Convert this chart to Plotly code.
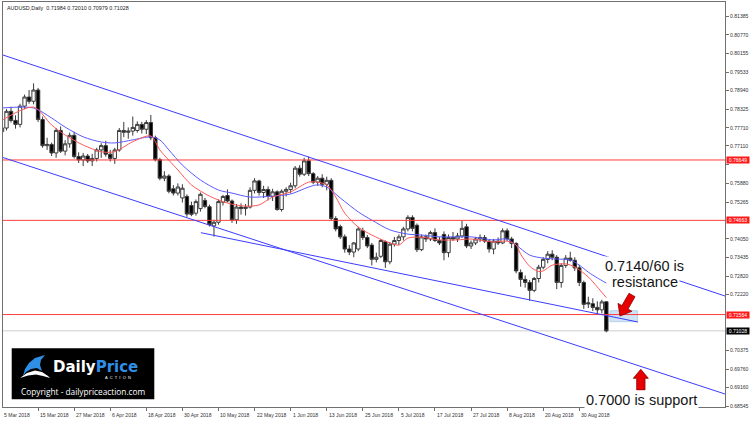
import plotly.graph_objects as go
import pandas as pd

# ---------------- data ----------------
dates = [d.strftime('%Y-%m-%d') for d in pd.bdate_range('2018-03-05', '2018-09-07')]

opens = [0.7758,0.7770,0.7825,0.7795,0.7782,0.7842,0.7872,0.7858,0.7895,0.7798,
         0.7712,0.7716,0.7688,0.7762,0.7694,0.7718,0.7746,0.7676,0.7665,0.7678,
         0.7662,0.7670,0.7698,0.7712,0.7684,0.7670,0.7698,0.7762,0.7756,0.7760,
         0.7762,0.7782,0.7766,0.7788,0.7738,0.7666,0.7605,0.7612,0.7570,0.7556,
         0.7540,0.7545,0.7515,0.7490,0.7505,0.7532,0.7511,0.7448,0.7460,0.7526,
         0.7548,0.7530,0.7468,0.7510,0.7505,0.7510,0.7565,0.7596,0.7558,0.7568,
         0.7545,0.7560,0.7502,0.7562,0.7568,0.7580,0.7638,0.7618,0.7662,0.7620,
         0.7592,0.7605,0.7585,0.7598,0.7472,0.7446,0.7412,0.7372,0.7362,0.7372,
         0.7432,0.7410,0.7385,0.7338,0.7348,0.7396,0.7330,0.7388,0.7400,0.7412,
         0.7438,0.7476,0.7450,0.7370,0.7412,0.7405,0.7426,0.7400,0.7420,0.7360,
         0.7410,0.7405,0.7415,0.7445,0.7382,0.7392,0.7405,0.7410,0.7398,0.7372,
         0.7398,0.7392,0.7432,0.7405,0.7390,0.7295,0.7272,0.7262,0.7236,0.7275,
         0.7312,0.7338,0.7355,0.7345,0.7262,0.7318,0.7342,0.7335,0.7310,0.7262,
         0.7195,0.7192,0.7180,0.7172,0.71984]
highs = [0.7785,0.7832,0.7840,0.7812,0.7850,0.7880,0.7895,0.7917,0.7902,0.7808,
         0.7738,0.7722,0.7770,0.7775,0.7730,0.7755,0.7758,0.7690,0.7688,0.7685,
         0.7685,0.7705,0.7720,0.7728,0.7698,0.7705,0.7770,0.7790,0.7772,0.7808,
         0.7792,0.7790,0.7796,0.7813,0.7745,0.7672,0.7628,0.7618,0.7582,0.7588,
         0.7585,0.7552,0.7528,0.7535,0.7558,0.7540,0.7518,0.7468,0.7535,0.7550,
         0.7568,0.7535,0.7520,0.7522,0.7520,0.7575,0.7605,0.7600,0.7580,0.7578,
         0.7570,0.7565,0.7568,0.7575,0.7590,0.7645,0.7648,0.7672,0.7676,0.7625,
         0.7612,0.7618,0.7610,0.7605,0.7480,0.7452,0.7420,0.7385,0.7395,0.7445,
         0.7442,0.7418,0.7392,0.7360,0.7405,0.7400,0.7395,0.7412,0.7420,0.7445,
         0.7483,0.7483,0.7456,0.7420,0.7420,0.7432,0.7440,0.7412,0.7430,0.7420,
         0.7428,0.7425,0.7465,0.7455,0.7400,0.7412,0.7420,0.7418,0.7402,0.7405,
         0.7410,0.7440,0.7440,0.7412,0.7395,0.7305,0.7285,0.7270,0.7280,0.7320,
         0.7345,0.7365,0.7368,0.7352,0.7325,0.7352,0.7363,0.7345,0.7320,0.7268,
         0.7215,0.7210,0.7200,0.7205,0.72010]
lows = [0.7745,0.7762,0.7788,0.7768,0.7772,0.7832,0.7850,0.7848,0.7790,0.7705,
        0.7698,0.7678,0.7672,0.7688,0.7680,0.7705,0.7670,0.7655,0.7645,0.7655,
        0.7645,0.7660,0.7672,0.7676,0.7660,0.7652,0.7692,0.7740,0.7735,0.7745,
        0.7755,0.7752,0.7750,0.7730,0.7660,0.7598,0.7595,0.7555,0.7548,0.7548,
        0.7525,0.7478,0.7480,0.7482,0.7495,0.7506,0.7446,0.7413,0.7452,0.7515,
        0.7525,0.7458,0.7455,0.7485,0.7482,0.7505,0.7555,0.7548,0.7540,0.7532,
        0.7530,0.7498,0.7495,0.7545,0.7555,0.7572,0.7610,0.7612,0.7612,0.7585,
        0.7580,0.7575,0.7565,0.7465,0.7430,0.7405,0.7360,0.7352,0.7345,0.7365,
        0.7402,0.7375,0.7318,0.7328,0.7342,0.7310,0.7322,0.7380,0.7385,0.7400,
        0.7430,0.7430,0.7362,0.7365,0.7395,0.7398,0.7395,0.7385,0.7335,0.7345,
        0.7398,0.7395,0.7408,0.7375,0.7372,0.7385,0.7395,0.7392,0.7360,0.7355,
        0.7385,0.7388,0.7398,0.7375,0.7292,0.7248,0.7245,0.7202,0.7230,0.7262,
        0.7305,0.7325,0.7335,0.7240,0.7245,0.7310,0.7330,0.7300,0.7250,0.7175,
        0.7178,0.7168,0.7155,0.7160,0.70979]
closes = [0.7770,0.7825,0.7795,0.7782,0.7842,0.7872,0.7858,0.7895,0.7798,0.7712,
          0.7716,0.7688,0.7762,0.7694,0.7718,0.7746,0.7676,0.7665,0.7678,0.7662,
          0.7670,0.7698,0.7712,0.7684,0.7670,0.7698,0.7762,0.7756,0.7760,0.7772,
          0.7782,0.7766,0.7788,0.7738,0.7666,0.7605,0.7612,0.7562,0.7556,0.7576,
          0.7572,0.7487,0.7486,0.7528,0.7552,0.7512,0.7452,0.7460,0.7528,0.7545,
          0.7530,0.7468,0.7510,0.7505,0.7510,0.7565,0.7596,0.7558,0.7568,0.7545,
          0.7560,0.7502,0.7562,0.7568,0.7580,0.7638,0.7618,0.7662,0.7620,0.7592,
          0.7605,0.7585,0.7598,0.7472,0.7438,0.7412,0.7372,0.7362,0.7392,0.7438,
          0.7410,0.7382,0.7338,0.7345,0.7400,0.7330,0.7388,0.7400,0.7412,0.7438,
          0.7476,0.7440,0.7370,0.7412,0.7405,0.7426,0.7400,0.7392,0.7360,0.7410,
          0.7405,0.7415,0.7440,0.7382,0.7392,0.7405,0.7410,0.7398,0.7372,0.7398,
          0.7392,0.7432,0.7405,0.7390,0.7300,0.7272,0.7262,0.7236,0.7275,0.7312,
          0.7338,0.7355,0.7345,0.7262,0.7318,0.7342,0.7335,0.7310,0.7262,0.7190,
          0.7192,0.7180,0.7172,0.7198,0.71028]

# moving averages
ma_fast_dates = ['2018-03-05','2018-03-14','2018-03-20','2018-03-23','2018-03-29','2018-04-04',
                 '2018-04-09','2018-04-13','2018-04-19','2018-04-23','2018-04-27','2018-05-02',
                 '2018-05-08','2018-05-14','2018-05-18','2018-05-23','2018-05-28','2018-06-01',
                 '2018-06-07','2018-06-11','2018-06-13','2018-06-15','2018-06-19','2018-06-22',
                 '2018-06-27','2018-07-03','2018-07-05','2018-07-09','2018-07-12','2018-07-18',
                 '2018-07-24','2018-07-27','2018-08-03','2018-08-08','2018-08-10','2018-08-13',
                 '2018-08-15','2018-08-17','2018-08-20','2018-08-22','2018-08-27','2018-08-29',
                 '2018-09-03','2018-09-05','2018-09-07']
ma_fast_vals = [0.7796,0.7839,0.7780,0.7747,0.7714,0.7692,
                0.7692,0.7725,0.7744,0.7698,0.7632,0.7583,
                0.7546,0.7523,0.7513,0.7517,0.7543,0.7560,
                0.7592,0.7592,0.7583,0.7543,0.7490,0.7444,
                0.7418,0.7392,0.7385,0.7408,0.7411,0.7402,
                0.7402,0.7405,0.7395,0.7398,0.7385,0.7355,
                0.7315,0.7298,0.7300,0.7319,0.7323,0.7313,
                0.7280,0.7247,0.7212]
ma_slow_dates = ['2018-03-05','2018-03-14','2018-03-20','2018-03-23','2018-03-29','2018-04-04',
                 '2018-04-09','2018-04-13','2018-04-19','2018-04-23','2018-04-25','2018-04-30',
                 '2018-05-04','2018-05-10','2018-05-15','2018-05-21','2018-05-28','2018-06-01',
                 '2018-06-07','2018-06-11','2018-06-13','2018-06-18','2018-06-22','2018-06-27',
                 '2018-07-03','2018-07-09','2018-07-12','2018-07-18','2018-07-24','2018-07-27',
                 '2018-08-03','2018-08-08','2018-08-10','2018-08-15','2018-08-20','2018-08-23',
                 '2018-08-28','2018-08-30','2018-09-03','2018-09-05','2018-09-07']
ma_slow_vals = [0.7836,0.7836,0.7803,0.7773,0.7741,0.7724,
                0.7721,0.7731,0.7741,0.7731,0.7698,0.7648,
                0.7599,0.7566,0.7556,0.7543,0.7546,0.7553,
                0.7576,0.7583,0.7576,0.7540,0.7494,0.7467,
                0.7435,0.7421,0.7418,0.7412,0.7412,0.7412,
                0.7402,0.7405,0.7385,0.7352,0.7342,0.7339,
                0.7336,0.7319,0.7296,0.7277,0.7260]

# horizontal levels and price labels
level_prices = [0.76649, 0.74663, 0.71564]
bid_price = 0.71028
title_text = 'AUDUSD,Daily  0.71984 0.72010 0.70979 0.71028'

# trend lines drawn on chart: (bar position, price) pairs
trend_x0 = [0.22, 0.22, 44.1]
trend_y0 = [0.80102, 0.76730, 0.74257]
trend_x1 = [160.3, 160.3, 141.0]
trend_y1 = [0.72174, 0.68951, 0.71319]
zone_x = [134.8, 140.9]
zone_y = [0.71329, 0.71691]

ytick_vals = [0.81385, 0.80770, 0.80155, 0.79533, 0.78940, 0.78325, 0.77710, 0.77110,
              0.76495, 0.75880, 0.75265, 0.74050, 0.73435, 0.72820, 0.72220,
              0.70375, 0.69760, 0.69160, 0.68545]
# 0.76495 sits under the red 0.76649 price tag, so only its tick is shown
ytick_text = ['' if v == 0.76495 else '%.5f' % v for v in ytick_vals]
xtick_dates = ['2018-03-05','2018-03-15','2018-03-27','2018-04-06','2018-04-18','2018-04-30',
               '2018-05-10','2018-05-22','2018-06-01','2018-06-13','2018-06-25','2018-07-05',
               '2018-07-17','2018-07-27','2018-08-08','2018-08-20','2018-08-30']
xtick_text = ['5 Mar 2018','15 Mar 2018','27 Mar 2018','6 Apr 2018','18 Apr 2018','30 Apr 2018',
              '10 May 2018','22 May 2018','1 Jun 2018','13 Jun 2018','25 Jun 2018','5 Jul 2018',
              '17 Jul 2018','27 Jul 2018','8 Aug 2018','20 Aug 2018','30 Aug 2018']

# ---------------- figure ----------------
W, H = 750, 421
ML, MR, MT, MB = 3, 25, 2, 14
PW, PH = W - ML - MR, H - MT - MB
XR = [0.222, 160.31]
YR = [0.68523, 0.81846]
pos = {d: i for i, d in enumerate(dates)}
idx = list(range(len(dates)))
FONT = 'Liberation Sans'


def pp(px, py):
    return (px - ML) / PW, (H - MB - py) / PH


def path(points):
    s = ''
    for k, (a, b) in enumerate(points):
        x, y = pp(a, b)
        s += ('M' if k == 0 else 'L') + '%.5f,%.5f ' % (x, y)
    return s + 'Z'


fig = go.Figure()
fig.add_trace(go.Candlestick(
    x=idx, open=opens, high=highs, low=lows, close=closes,
    increasing=dict(fillcolor='white', line=dict(color='#3a3a3a', width=1)),
    decreasing=dict(fillcolor='black', line=dict(color='#3a3a3a', width=1)),
    whiskerwidth=0, showlegend=False, hoverinfo='skip'))
fig.add_trace(go.Scatter(x=[pos[d] for d in ma_slow_dates], y=ma_slow_vals, mode='lines',
                         line=dict(color='#5a5aff', width=1, shape='spline', smoothing=0.8),
                         showlegend=False, hoverinfo='skip'))
fig.add_trace(go.Scatter(x=[pos[d] for d in ma_fast_dates], y=ma_fast_vals, mode='lines',
                         line=dict(color='#ff5a5a', width=1, shape='spline', smoothing=0.8),
                         showlegend=False, hoverinfo='skip'))

shapes = []
shapes.append(dict(type='rect', xref='x', yref='y', x0=zone_x[0], x1=zone_x[1], y0=zone_y[0], y1=zone_y[1],
                   fillcolor='#cfe3f5', line=dict(color='#b5d2ee', width=1), layer='below'))
for p in level_prices:
    shapes.append(dict(type='line', xref='paper', yref='y', x0=0, x1=1, y0=p, y1=p,
                       line=dict(color='#ff3b3b', width=1)))
shapes.append(dict(type='line', xref='paper', yref='y', x0=0, x1=1, y0=bid_price, y1=bid_price,
                   line=dict(color='#cfcfcf', width=1), layer='below'))
for a, b, c, d in zip(trend_x0, trend_y0, trend_x1, trend_y1):
    shapes.append(dict(type='line', xref='x', yref='y', x0=a, y0=b, x1=c, y1=d,
                       line=dict(color='#3c3cff', width=1)))

# arrows
shapes.append(dict(type='path', xref='paper', yref='paper',
                   path=path([(635.0, 296.7), (628.0, 309.1), (631.9, 311.3), (620.0, 316.0),
                              (618.0, 303.4), (621.9, 305.6), (629.0, 293.3)]),
                   fillcolor='#e60000', line=dict(color='#8a0000', width=0.8)))
shapes.append(dict(type='path', xref='paper', yref='paper',
                   path=path([(640.8, 369.3), (648.3, 378.3), (645.0, 378.3), (645.0, 390.0),
                              (636.7, 390.0), (636.7, 378.3), (633.3, 378.3)]),
                   fillcolor='#e60000', line=dict(color='#8a0000', width=0.8)))
# logo
x0, y0 = pp(11.7, 399.3)
x1, y1 = pp(154.3, 348.3)
shapes.append(dict(type='rect', xref='paper', yref='paper', x0=x0, y0=y0, x1=x1, y1=y1,
                   fillcolor='black', line=dict(width=0)))
shapes.append(dict(type='path', xref='paper', yref='paper',
                   path=path([(23, 376), (25, 369), (29, 363), (35, 358), (45, 355), (41, 360),
                              (40, 365), (42, 371), (37, 368), (31, 369), (26, 372)]),
                   fillcolor='#2f8fe6', line=dict(width=0)))
shapes.append(dict(type='path', xref='paper', yref='paper',
                   path=path([(20, 378), (27, 373), (35, 370.5), (42, 372), (48, 376), (50, 378),
                              (43, 376), (36, 374.5), (28, 375.5)]),
                   fillcolor='white', line=dict(width=0)))

ann = []
ann.append(dict(x=0, y=1, xref='paper', yref='paper', xanchor='left', yanchor='top', xshift=2, yshift=-1,
                text=title_text, showarrow=False, font=dict(family=FONT, size=5.4, color='#222')))
for d, t in zip(xtick_dates, xtick_text):
    xp = (pos[d] - XR[0]) / (XR[1] - XR[0])
    ann.append(dict(x=xp, y=0, xref='paper', yref='paper', xanchor='left', yanchor='top', yshift=-3,
                    text=t, showarrow=False, font=dict(family=FONT, size=5.1, color='#333')))
for p in level_prices:
    ann.append(dict(x=1, y=p, xref='paper', yref='y', xanchor='left', yanchor='middle', xshift=1,
                    text='%.5f' % p, showarrow=False, bgcolor='#ff1a1a', width=22, height=6, borderpad=0,
                    font=dict(family=FONT, size=5.1, color='white')))
ann.append(dict(x=1, y=bid_price, xref='paper', yref='y', xanchor='left', yanchor='middle', xshift=1,
                text='%.5f' % bid_price, showarrow=False, bgcolor='black', width=22, height=6, borderpad=0,
                font=dict(family=FONT, size=5.1, color='white')))

for txt, cx, cy in [('0.7140/60 is', 644.5, 266.5), ('resistance', 644.5, 281.5), ('0.7000 is support', 641, 400)]:
    ax, ay = pp(cx, cy)
    ann.append(dict(x=ax, y=ay, xref='paper', yref='paper', xanchor='center', yanchor='middle',
                    text=txt, showarrow=False, bgcolor='white', borderpad=1,
                    font=dict(family=FONT, size=14.5, color='#151515')))

lx, ly = pp(95, 366.5)
ann.append(dict(x=lx, y=ly, xref='paper', yref='paper', xanchor='center', yanchor='middle', showarrow=False,
                text="<b>Daily</b><b><span style='color:#2f8fe6'>Price</span></b>",
                font=dict(family='DejaVu Sans', size=15, color='white')))
lx, ly = pp(117.5, 377.5)
ann.append(dict(x=lx, y=ly, xref='paper', yref='paper', xanchor='center', yanchor='middle', showarrow=False,
                text='A  C  T  I  O  N', font=dict(family=FONT, size=4, color='white')))
lx, ly = pp(83, 391)
ann.append(dict(x=lx, y=ly, xref='paper', yref='paper', xanchor='center', yanchor='middle', showarrow=False,
                text='Copyright - dailypriceaction.com', font=dict(family='Open Sans', size=8.3, color='white')))

fig.update_layout(
    width=W, height=H, margin=dict(l=ML, r=MR, t=MT, b=MB, pad=0),
    paper_bgcolor='white', plot_bgcolor='white', showlegend=False,
    boxgap=0.25, boxgroupgap=0,
    shapes=shapes, annotations=ann,
    xaxis=dict(range=XR, showgrid=False, zeroline=False, showline=True, mirror=True,
               linecolor='#707070', linewidth=1, ticks='outside', ticklen=3, tickcolor='#707070',
               tickvals=[pos[d] for d in xtick_dates], showticklabels=False,
               rangeslider=dict(visible=False), fixedrange=True),
    yaxis=dict(range=YR, side='right', showgrid=False, zeroline=False, showline=True,
               mirror=True, linecolor='#707070', linewidth=1, ticks='outside', ticklen=3,
               tickcolor='#707070', tickvals=ytick_vals, ticktext=ytick_text,
               tickfont=dict(family=FONT, size=5.1, color='#333'), fixedrange=True),
)

fig.write_html('out.html')
